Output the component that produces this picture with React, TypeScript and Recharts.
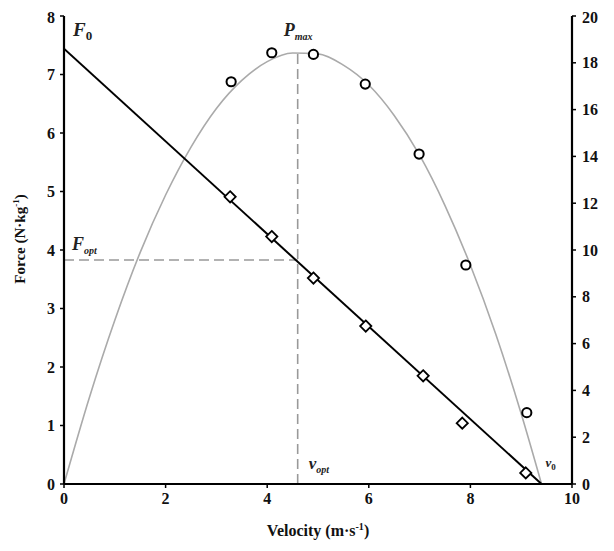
import React from "react";
import {
  ComposedChart,
  Line,
  Scatter,
  XAxis,
  YAxis,
  ReferenceLine,
  ReferenceDot,
  Label,
} from "recharts";

// ---- data ----
const velocityTicks = [0, 2, 4, 6, 8, 10];
const forceTicks = [0, 1, 2, 3, 4, 5, 6, 7, 8];
const powerTicks = [0, 2, 4, 6, 8, 10, 12, 14, 16, 18, 20];

// measured force points (diamonds)
const forceVelocity = [3.27, 4.09, 4.91, 5.94, 7.07, 7.84, 9.09];
const forceValues = [4.91, 4.23, 3.52, 2.7, 1.85, 1.04, 0.19];

// measured power points (circles)
const powerVelocity = [3.29, 4.09, 4.91, 5.93, 6.99, 7.91, 9.11];
const powerValues = [17.19, 18.43, 18.36, 17.09, 14.1, 9.36, 3.05];

// linear force-velocity fit (F0 -> v0)
const fitVelocity = [0, 9.4];
const fitForce = [7.44, 0];

// power curve
const curveVelocity = [0, 0.5, 1, 1.5, 2, 2.5, 3, 3.5, 4, 4.5, 5, 5.5, 6, 6.5, 7, 7.5, 8, 8.5, 9, 9.4];
const curvePower = [0, 3.7, 7.0, 9.9, 12.35, 14.4, 16.05, 17.25, 18.05, 18.42, 18.38, 17.9, 17.05, 15.75, 14.05, 11.9, 9.35, 6.4, 3.0, 0];

// optimal values
const F0 = 7.44;
const V0 = 9.4;
const vOpt = 4.6;
const fOpt = 3.83;
const pMax = 18.45;

const zip = (xs: number[], ys: number[]) => xs.map((v, i) => ({ v, y: ys[i] }));
const forceData = zip(forceVelocity, forceValues);
const powerData = zip(powerVelocity, powerValues);
const fitData = zip(fitVelocity, fitForce);
const curveData = zip(curveVelocity, curvePower);

const SERIF = "'Liberation Serif', 'Times New Roman', serif";
const tickStyle = { fontFamily: SERIF, fontSize: 16, fontWeight: 700, fill: "#111" };

const Circle = (p: any) => (
  <circle cx={p.cx} cy={p.cy} r={4.6} fill="#fff" stroke="#000" strokeWidth={2} />
);
const Diamond = (p: any) => {
  const s = 5.6;
  const { cx, cy } = p;
  return (
    <polygon
      points={`${cx},${cy - s} ${cx + s},${cy} ${cx},${cy + s} ${cx - s},${cy}`}
      fill="#fff"
      stroke="#000"
      strokeWidth={1.8}
    />
  );
};

// annotation text with subscript
const sub = (main: string, subText: string, dx: number, dy: number, mainSize: number, subSize: number, subDy: number) =>
  (p: any) => (
    <text
      x={p.cx + dx}
      y={p.cy + dy}
      fontFamily={SERIF}
      fontStyle="italic"
      fontWeight={700}
      fontSize={mainSize}
      fill="#222"
    >
      {main}
      <tspan fontSize={subSize} dy={subDy} fontStyle={subText === "0" ? "normal" : "italic"}>
        {subText}
      </tspan>
    </text>
  );

const XLabel = (props: any) => {
  const vb = props.viewBox;
  return (
    <text
      x={vb.x + vb.width / 2}
      y={vb.y + 52}
      textAnchor="middle"
      fontFamily={SERIF}
      fontWeight={700}
      fontSize={16}
      fill="#111"
    >
      Velocity (m·s
      <tspan fontSize={10} dy={-6}>-1</tspan>
      <tspan dy={6}>)</tspan>
    </text>
  );
};

const YLabel = (props: any) => {
  const vb = props.viewBox;
  const cx = vb.x + 17;
  const cy = vb.y + vb.height / 2 - 11;
  return (
    <text
      x={cx}
      y={cy}
      transform={`rotate(-90 ${cx} ${cy})`}
      textAnchor="middle"
      fontFamily={SERIF}
      fontWeight={700}
      fontSize={15}
      fill="#111"
    >
      Force (N·kg
      <tspan fontSize={9} dy={-6}>-1</tspan>
      <tspan dy={6}>)</tspan>
    </text>
  );
};

export default function App() {
  return (
    <ComposedChart
      width={606}
      height={543}
      margin={{ top: 8, right: 0, bottom: 0, left: 0 }}
    >
      <XAxis
        dataKey="v"
        type="number"
        domain={[0, 10]}
        ticks={velocityTicks}
        allowDataOverflow
        height={67}
        tick={tickStyle}
        tickSize={4}
        tickMargin={5}
        axisLine={{ stroke: "#000", strokeWidth: 2.2 }}
        tickLine={{ stroke: "#000", strokeWidth: 1.5 }}
      >
        <Label content={XLabel} />
      </XAxis>
      <YAxis
        yAxisId="left"
        dataKey="y"
        type="number"
        domain={[0, 8]}
        ticks={forceTicks}
        allowDataOverflow
        width={56}
        tick={tickStyle}
        tickSize={4}
        tickMargin={5}
        axisLine={{ stroke: "#000", strokeWidth: 2.2 }}
        tickLine={{ stroke: "#000", strokeWidth: 1.5 }}
      >
        <Label content={YLabel} />
      </YAxis>
      <YAxis
        yAxisId="right"
        orientation="right"
        dataKey="y"
        type="number"
        domain={[0, 20]}
        ticks={powerTicks}
        allowDataOverflow
        width={42}
        tick={{ ...tickStyle, textAnchor: "start" }}
        tickSize={4}
        tickMargin={6}
        axisLine={{ stroke: "#000", strokeWidth: 2.2 }}
        tickLine={{ stroke: "#000", strokeWidth: 1.5 }}
      />

      <ReferenceLine
        yAxisId="left"
        segment={[
          { x: 0, y: fOpt },
          { x: vOpt, y: fOpt },
        ]}
        stroke="#999"
        strokeWidth={1.6}
        strokeDasharray="10 5"
      />
      <ReferenceLine
        yAxisId="right"
        segment={[
          { x: vOpt, y: 0 },
          { x: vOpt, y: pMax },
        ]}
        stroke="#999"
        strokeWidth={1.6}
        strokeDasharray="10 5"
      />

      <Line
        yAxisId="right"
        data={curveData}
        dataKey="y"
        type="monotone"
        stroke="#aaa"
        strokeWidth={1.6}
        dot={false}
        activeDot={false}
        isAnimationActive={false}
      />
      <Line
        yAxisId="left"
        data={fitData}
        dataKey="y"
        type="linear"
        stroke="#000"
        strokeWidth={2}
        dot={false}
        activeDot={false}
        isAnimationActive={false}
      />
      <Scatter
        yAxisId="left"
        data={forceData}
        dataKey="y"
        shape={Diamond}
        isAnimationActive={false}
      />
      <Scatter
        yAxisId="right"
        data={powerData}
        dataKey="y"
        shape={Circle}
        isAnimationActive={false}
      />

      <ReferenceDot yAxisId="left" x={0} y={F0} r={0} shape={sub("F", "0", 9, -13, 19, 13, 4)} />
      <ReferenceDot yAxisId="left" x={0} y={fOpt} r={0} shape={sub("F", "opt", 8, -10, 18, 10, 4)} />
      <ReferenceDot yAxisId="right" x={vOpt} y={pMax} r={0} shape={sub("P", "max", -14, -16, 18, 10, 4)} />
      <ReferenceDot yAxisId="left" x={vOpt} y={0} r={0} shape={sub("v", "opt", 11, -15, 17, 10, 4)} />
      <ReferenceDot yAxisId="left" x={V0} y={0} r={0} shape={sub("v", "0", 4, -17, 13, 9, 3)} />
    </ComposedChart>
  );
}
